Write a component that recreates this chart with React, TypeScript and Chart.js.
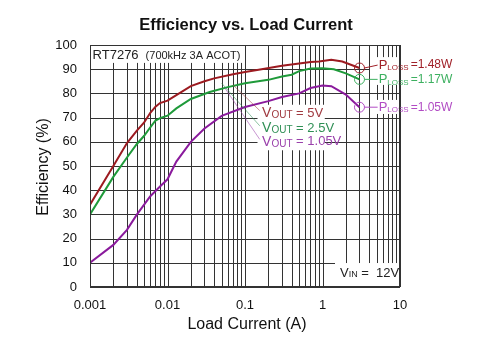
import React, { useEffect, useRef } from "react";
import { Chart, registerables } from "chart.js";

Chart.register(...registerables);

// ---- data (Load current in A, efficiency in %) ----
const current5V = [0.001, 0.002, 0.003, 0.004, 0.005, 0.006, 0.007, 0.008, 0.01, 0.013, 0.02, 0.03, 0.04, 0.07, 0.1, 0.15, 0.3, 0.5, 0.7, 0.9, 1.3, 1.8, 3];
const eff5V = [34, 50, 59.5, 64.5, 68, 72, 74.5, 76, 77, 79.3, 83, 85, 86.2, 87.9, 88.8, 89.8, 91.4, 92.4, 93, 93.2, 93.9, 93.2, 90.5];

const current2V5 = [0.001, 0.002, 0.003, 0.004, 0.005, 0.006, 0.007, 0.008, 0.01, 0.013, 0.02, 0.035, 0.06, 0.1, 0.2, 0.3, 0.4, 0.5, 0.7, 1, 1.4, 2, 3];
const eff2V5 = [30, 45.5, 53.5, 59, 62.5, 66, 68.8, 69.8, 70.8, 73.8, 77.7, 80.6, 82.6, 84.2, 85.6, 87, 87.7, 89.2, 90.3, 90.4, 90, 88.3, 85.8];

const current1V05 = [0.001, 0.002, 0.003, 0.004, 0.006, 0.008, 0.01, 0.013, 0.02, 0.03, 0.05, 0.1, 0.2, 0.3, 0.5, 0.7, 1, 1.3, 2, 3];
const eff1V05 = [10, 17.4, 23.6, 29.8, 37.5, 41.5, 44.5, 51.8, 60, 65.5, 70.7, 74.4, 76.8, 78.5, 80, 82.2, 83.3, 83, 79.5, 74.3];

const seriesNames = ["VOUT = 5V", "VOUT = 2.5V", "VOUT = 1.05V"];
const lossLabels = ["1.48W", "1.17W", "1.05W"];
const xTickValues = [0.001, 0.01, 0.1, 1, 10];
const xTickLabels = ["0.001", "0.01", "0.1", "1", "10"];

const lineColors = ["#9c1a20", "#1f9a3a", "#8a1a9c"];
const labelColors = ["#a02028", "#3db060", "#b24cc4"];
const voutColors = ["#a03a40", "#2f8f55", "#9a40ab"];

const FONT = "'Liberation Sans', Arial, sans-serif";

// label boxes (data space: x0, yTop, x1, yBottom) that hide the grid
const labelBoxes = [
  [0.001, 100, 0.1, 92.6],
  [0.145, 75.3, 1.07, 56.5],
  [1.45, 9.9, 10, 0.4],
  [4.1, 95, 10, 83.5],
  [4.1, 77.3, 10, 71.5],
];

const toPts = (xs: number[], ys: number[]) => xs.map((x, i) => ({ x, y: ys[i] }));

export default function App() {
  const ref = useRef<HTMLCanvasElement>(null);

  useEffect(() => {
    if (!ref.current) return;

    const overlay = {
      id: "overlay",
      beforeDatasetsDraw(chart: any) {
        const { ctx, scales, chartArea } = chart;
        const xs = scales.x, ys = scales.y;
        const rects = labelBoxes.map(([x0, y0, x1, y1]) => ({
          l: xs.getPixelForValue(x0), r: xs.getPixelForValue(x1),
          t: ys.getPixelForValue(y0), b: ys.getPixelForValue(y1),
        }));
        ctx.save();
        ctx.strokeStyle = "#333";
        ctx.lineWidth = 1;
        const drawSegs = (fixed: number, a: number, b: number, vertical: boolean) => {
          // collect blocked intervals
          const blocked: number[][] = [];
          for (const r of rects) {
            if (vertical && fixed > r.l && fixed < r.r) blocked.push([r.t, r.b]);
            if (!vertical && fixed > r.t && fixed < r.b) blocked.push([r.l, r.r]);
          }
          blocked.sort((p, q) => p[0] - q[0]);
          let cur = a;
          ctx.beginPath();
          for (const [s, e] of blocked) {
            if (s > cur) {
              if (vertical) { ctx.moveTo(fixed, cur); ctx.lineTo(fixed, s); }
              else { ctx.moveTo(cur, fixed); ctx.lineTo(s, fixed); }
            }
            cur = Math.max(cur, e);
          }
          if (cur < b) {
            if (vertical) { ctx.moveTo(fixed, cur); ctx.lineTo(fixed, b); }
            else { ctx.moveTo(cur, fixed); ctx.lineTo(b, fixed); }
          }
          ctx.stroke();
        };
        for (const t of xs.ticks) {
          const px = Math.round(xs.getPixelForValue(t.value)) + 0.5;
          drawSegs(px, chartArea.top, chartArea.bottom, true);
        }
        for (const t of ys.ticks) {
          const py = Math.round(ys.getPixelForValue(t.value)) + 0.5;
          drawSegs(py, chartArea.left, chartArea.right, false);
        }
        ctx.restore();
      },
      afterDatasetsDraw(chart: any) {
        const { ctx, scales, chartArea } = chart;
        const xs = scales.x, ys = scales.y;
        const P = (x: number, y: number) => [xs.getPixelForValue(x), ys.getPixelForValue(y)];
        ctx.save();
        // leader lines for VOUT labels
        const starts = [[0.07, 83.5], [0.05, 84.2], [0.055, 82.2]];
        const voutY = [71.9, 65.6, 60.0];
        for (let i = 0; i < 3; i++) {
          const [sx, sy] = P(starts[i][0], starts[i][1]);
          const [ex, ey] = P(0.155, voutY[i] + 1);
          ctx.strokeStyle = voutColors[i];
          ctx.globalAlpha = 0.55;
          ctx.lineWidth = 1;
          ctx.beginPath();
          ctx.moveTo(sx, sy);
          ctx.lineTo(ex, ey);
          ctx.stroke();
        }
        ctx.globalAlpha = 1;
        // VOUT labels
        for (let i = 0; i < 3; i++) {
          const [px, py] = P(0.166, voutY[i]);
          ctx.fillStyle = voutColors[i];
          ctx.textBaseline = "middle";
          ctx.textAlign = "left";
          ctx.font = `14px ${FONT}`;
          ctx.fillText("V", px, py);
          let w = ctx.measureText("V").width;
          ctx.font = `10px ${FONT}`;
          ctx.fillText("OUT", px + w, py + 2);
          w += ctx.measureText("OUT").width;
          ctx.font = `13px ${FONT}`;
          ctx.fillText(seriesNames[i].replace("VOUT", ""), px + w, py);
        }
        // PLOSS markers + labels
        const lastIdx = [eff5V.length - 1, eff2V5.length - 1, eff1V05.length - 1];
        const lastY = [eff5V[lastIdx[0]], eff2V5[lastIdx[1]], eff1V05[lastIdx[2]]];
        const lastX = [current5V[lastIdx[0]], current2V5[lastIdx[1]], current1V05[lastIdx[2]]];
        const labelY = [91.7, 85.8, 74.3];
        for (let i = 0; i < 3; i++) {
          const [mx, my] = P(lastX[i], lastY[i]);
          const [lx, ly] = P(5.3, labelY[i]);
          ctx.strokeStyle = labelColors[i];
          ctx.lineWidth = 1;
          ctx.beginPath();
          ctx.arc(mx, my, 5, 0, Math.PI * 2);
          ctx.stroke();
          ctx.beginPath();
          ctx.moveTo(mx + 5, my);
          ctx.lineTo(lx - 1, ly);
          ctx.stroke();
          ctx.fillStyle = labelColors[i];
          ctx.textBaseline = "middle";
          ctx.textAlign = "left";
          ctx.font = `13px ${FONT}`;
          ctx.fillText("P", lx, ly);
          let w = ctx.measureText("P").width;
          ctx.font = `8px ${FONT}`;
          ctx.fillText("LOSS", lx + w, ly + 3);
          w += ctx.measureText("LOSS").width + 2;
          ctx.font = `12px ${FONT}`;
          ctx.fillText("=" + lossLabels[i], lx + w, ly);
        }
        // RT7276 text
        {
          const [px, py] = P(0.00108, 95.6);
          ctx.fillStyle = "#222";
          ctx.textAlign = "left";
          ctx.textBaseline = "middle";
          ctx.font = `13px ${FONT}`;
          ctx.fillText("RT7276", px, py);
          const w = ctx.measureText("RT7276").width;
          ctx.font = `11px ${FONT}`;
          ctx.fillText("(700kHz 3A ACOT)", px + w + 7, py);
        }
        // VIN text
        {
          const [px, py] = P(1.68, 5.8);
          ctx.fillStyle = "#222";
          ctx.textAlign = "left";
          ctx.textBaseline = "middle";
          ctx.font = `13px ${FONT}`;
          ctx.fillText("V", px, py);
          let w = ctx.measureText("V").width;
          ctx.font = `9px ${FONT}`;
          ctx.fillText("IN", px + w, py + 2);
          w += ctx.measureText("IN").width;
          ctx.font = `13px ${FONT}`;
          ctx.fillText(" =  12V", px + w, py);
        }
        // border
        ctx.strokeStyle = "#333";
        ctx.lineWidth = 1;
        ctx.strokeRect(chartArea.left + 0.5, chartArea.top + 0.5, chartArea.right - chartArea.left - 1, chartArea.bottom - chartArea.top - 1);
        ctx.restore();
      },
      afterDraw(chart: any) {
        const { ctx, chartArea } = chart;
        ctx.save();
        ctx.fillStyle = "#111";
        ctx.textAlign = "center";
        ctx.textBaseline = "middle";
        ctx.font = `bold 16.5px ${FONT}`;
        ctx.fillText("Efficiency vs. Load Current", (chartArea.left + chartArea.right) / 2 + 1, 25);
        ctx.font = `16px ${FONT}`;
        ctx.fillText("Load Current (A)", (chartArea.left + chartArea.right) / 2 + 2, 325);
        ctx.translate(44, 167);
        ctx.rotate(-Math.PI / 2);
        ctx.fillText("Efficiency (%)", 0, 0);
        ctx.restore();
      },
    };

    const chart = new Chart(ref.current, {
      type: "line",
      data: {
        datasets: [
          { label: seriesNames[0], data: toPts(current5V, eff5V), borderColor: lineColors[0], borderWidth: 2, pointRadius: 0, tension: 0 },
          { label: seriesNames[1], data: toPts(current2V5, eff2V5), borderColor: lineColors[1], borderWidth: 2, pointRadius: 0, tension: 0 },
          { label: seriesNames[2], data: toPts(current1V05, eff1V05), borderColor: lineColors[2], borderWidth: 2, pointRadius: 0, tension: 0 },
        ],
      },
      options: {
        responsive: false,
        animation: false,
        layout: { padding: { top: 45, right: 88, left: 0, bottom: 0 } },
        plugins: { legend: { display: false }, tooltip: { enabled: false }, title: { display: false } },
        scales: {
          x: {
            type: "logarithmic",
            min: 0.001,
            max: 10,
            afterFit: (s: any) => { s.height = 68; },
            afterBuildTicks: (s: any) => {
              const t: any[] = [];
              for (let d = 0.001; d < 10; d *= 10) {
                for (let k = 1; k < 10; k++) t.push({ value: +(d * k).toPrecision(3) });
              }
              t.push({ value: 10 });
              s.ticks = t;
            },
            grid: { display: false, drawTicks: false },
            border: { display: false },
            ticks: {
              autoSkip: false,
              maxRotation: 0,
              padding: 11,
              color: "#111",
              font: { family: FONT, size: 13 },
              callback: (v: any) => {
                const i = xTickValues.findIndex((t) => Math.abs(t - v) / t < 1e-6);
                return i >= 0 ? xTickLabels[i] : "";
              },
            },
          },
          y: {
            min: 0,
            max: 100,
            afterFit: (s: any) => { s.width = 90; },
            grid: { display: false, drawTicks: false },
            border: { display: false },
            ticks: { stepSize: 10, padding: 13, color: "#111", font: { family: FONT, size: 13 } },
          },
        },
      },
      plugins: [overlay],
    });
    return () => chart.destroy();
  }, []);

  return (
    <div style={{ position: "fixed", left: 0, top: 0, width: 488, height: 355, background: "#fff" }}>
      <canvas ref={ref} width={488} height={355} />
    </div>
  );
}
